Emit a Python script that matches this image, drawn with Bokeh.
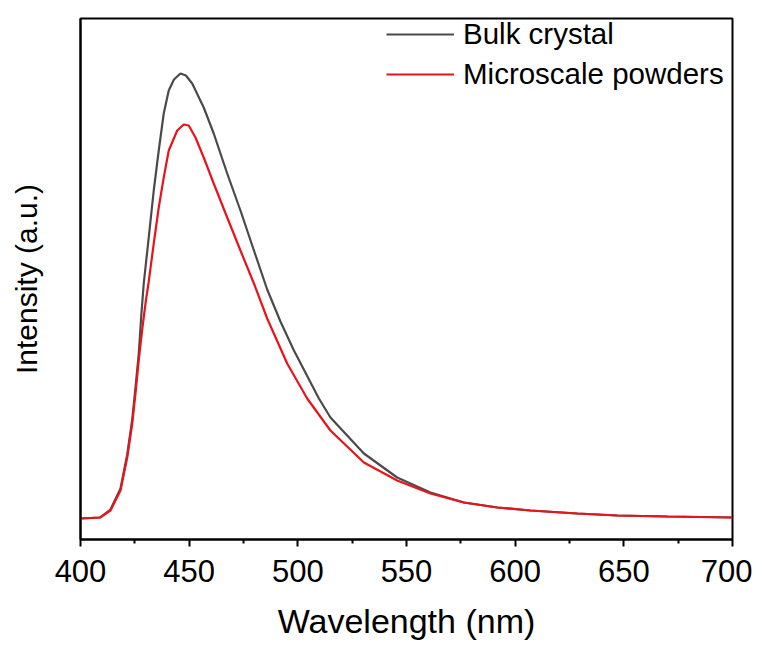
from bokeh.plotting import figure
from bokeh.models import Range1d, FixedTicker, Legend, LegendItem
from bokeh.embed import file_html
from bokeh.resources import INLINE

# Wavelength (nm) and intensity (a.u.)
bulk_wl = [400, 409, 413.8, 418.4, 421.5, 423.8, 425.3, 426.8, 428.0, 429.1, 431.4,
           433.7, 436.0, 438.3, 440.6, 443.0, 446.0, 448.5, 451.4, 456.7, 461.3,
           467.5, 473.6, 479.8, 485.9, 492.0, 498.2, 509.7, 515.0, 530.4, 545.7,
           561.0, 576.4, 591.8, 607.0, 628.6, 647.0, 670.0, 700.0]
bulk_int = [21, 22, 30, 51, 85, 120, 152, 186, 225, 256, 302,
            349, 389, 426, 449, 460, 466, 464, 456, 432, 406,
            366, 329, 289, 250, 218, 189, 141, 122, 86, 62,
            47, 37, 32, 29, 26, 24, 23, 22]

powder_wl = [400, 409, 413.8, 418.4, 421.5, 423.8, 425.3, 426.8, 428.4, 429.9, 431.4,
             433.7, 436.0, 438.3, 440.6, 444.5, 447.5, 449.8, 452.9, 456.7, 461.3,
             467.5, 473.6, 479.8, 485.9, 495.1, 504.3, 515.0, 530.4, 545.7, 561.0,
             576.4, 591.8, 607.0, 628.6, 647.0, 670.0, 700.0]
powder_int = [21, 22, 29, 49, 82, 116, 146, 179, 210, 236, 258,
              296, 332, 362, 389, 409, 415, 414, 402, 382, 356,
              322, 289, 256, 221, 176, 141, 109, 77, 59, 46,
              37, 32, 29, 26, 24, 23, 22]

x_ticks = [400, 450, 500, 550, 600, 650, 700]
x_minor = [425, 475, 525, 575, 625, 675]

FONT = "Liberation Sans"

p = figure(width=752, height=644, output_backend="svg", toolbar_location=None,
           x_range=Range1d(400, 700), y_range=Range1d(0, 521),
           min_border_left=80, min_border_right=20, min_border_top=18,
           min_border_bottom=105)
p.background_fill_color = "white"
p.border_fill_color = "white"
p.outline_line_color = "black"
p.outline_line_width = 2
p.xgrid.visible = False
p.ygrid.visible = False

r1 = p.line(bulk_wl, bulk_int, line_color="#4a4a4a", line_width=2.2)
r2 = p.line(powder_wl, powder_int, line_color="#e8131b", line_width=2.2)

xa = p.xaxis[0]
xa.ticker = FixedTicker(ticks=x_ticks, minor_ticks=x_minor)
xa.axis_label = "Wavelength (nm)"
xa.axis_label_text_font = FONT
xa.axis_label_text_font_size = "34px"
xa.axis_label_text_font_style = "normal"
xa.axis_label_text_color = "black"
xa.axis_label_standoff = 17
xa.major_label_text_font = FONT
xa.major_label_text_font_size = "31px"
xa.major_label_text_color = "black"
xa.major_label_standoff = 13
xa.axis_line_width = 2
xa.major_tick_line_width = 2
xa.minor_tick_line_width = 2
xa.major_tick_in = 0
xa.major_tick_out = 7
xa.minor_tick_in = 0
xa.minor_tick_out = 4

ya = p.yaxis[0]
ya.ticker = FixedTicker(ticks=[])
ya.axis_label = "Intensity (a.u.)"
ya.axis_label_text_font = FONT
ya.axis_label_text_font_size = "30px"
ya.axis_label_text_font_style = "normal"
ya.axis_label_text_color = "black"
ya.axis_line_width = 2
ya.major_tick_line_color = None
ya.minor_tick_line_color = None
ya.major_label_standoff = 0
ya.axis_label_standoff = 38

legend = Legend(items=[LegendItem(label="Bulk crystal", renderers=[r1]),
                       LegendItem(label="Microscale powders", renderers=[r2])],
                location=(306, 448))
legend.border_line_color = None
legend.background_fill_alpha = 0
legend.label_text_font = FONT
legend.label_text_font_size = "29.5px"
legend.label_text_color = "black"
legend.glyph_width = 68
legend.glyph_height = 30
legend.label_height = 30
legend.spacing = 6
legend.label_standoff = 9
legend.padding = 3
legend.margin = 0
p.add_layout(legend)

open("out.html", "w").write(file_html(p, INLINE))
